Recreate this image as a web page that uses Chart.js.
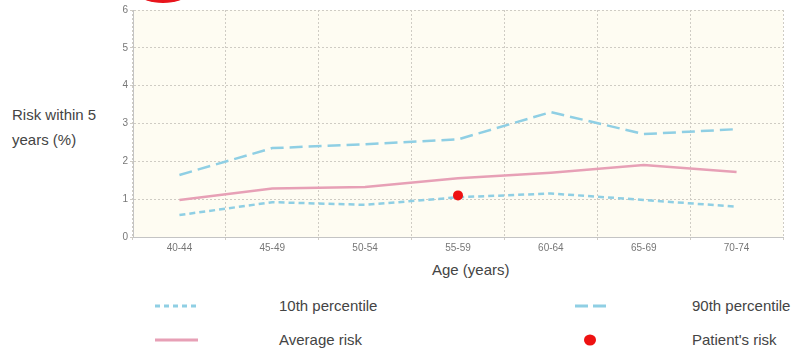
<!DOCTYPE html>
<html>
<head>
<meta charset="utf-8">
<script src="https://cdn.jsdelivr.net/npm/chart.js@4"></script>
<style>
  body { margin: 0; background: #fff; font-family: "Liberation Sans", Arial, sans-serif; color: #444; }
  #wrap { position: relative; width: 800px; height: 349px; overflow: hidden; }
  #chartBox { position: absolute; left: 100px; top: 0; width: 700px; height: 255px; }
  .txt { position: absolute; font-size: 15px; color: #444; white-space: nowrap; }
  .blob { position: absolute; left: 140px; top: -14px; width: 46px; height: 17px; border-radius: 50%; background: #e8141c; }
  svg.leg { position: absolute; }
</style>
</head>
<body>
<div id="wrap">
  <div class="blob"></div>
  <div id="chartBox"><canvas id="riskChart"></canvas></div>
  <div class="txt" style="left:12px; top:106px;">Risk within 5</div>
  <div class="txt" style="left:12px; top:131px;">years (%)</div>
  <div class="txt" style="left:432px; top:261px;">Age (years)</div>

  <svg class="leg" style="left:150px; top:298px;" width="60" height="16">
    <line x1="5" y1="8" x2="48" y2="8" stroke="#8fcfe4" stroke-width="3" stroke-dasharray="5,4"/>
  </svg>
  <div class="txt" style="left:279px; top:297px;">10th percentile</div>
  <svg class="leg" style="left:570px; top:298px;" width="50" height="16">
    <line x1="5" y1="8" x2="38" y2="8" stroke="#8fcfe4" stroke-width="3" stroke-dasharray="13,5"/>
  </svg>
  <div class="txt" style="left:692px; top:297px;">90th percentile</div>
  <svg class="leg" style="left:150px; top:332px;" width="60" height="16">
    <line x1="5" y1="8" x2="48" y2="8" stroke="#e7a0b6" stroke-width="3"/>
  </svg>
  <div class="txt" style="left:279px; top:331px;">Average risk</div>
  <svg class="leg" style="left:580px; top:332px;" width="20" height="16">
    <ellipse cx="10" cy="8" rx="6" ry="5.5" fill="#ee1111"/>
  </svg>
  <div class="txt" style="left:692px; top:331px;">Patient's risk</div>
</div>

<script>
const ageGroups = ['40-44', '45-49', '50-54', '55-59', '60-64', '65-69', '70-74'];
const p10 = [0.58, 0.92, 0.85, 1.05, 1.15, 0.98, 0.80];
const p90 = [1.64, 2.35, 2.45, 2.58, 3.30, 2.72, 2.85];
const averageRisk = [0.98, 1.28, 1.32, 1.55, 1.70, 1.90, 1.72];
const patientRisk = [null, null, null, 1.10, null, null, null];
const yTicks = [0, 1, 2, 3, 4, 5, 6];

// фон области графика
const plotBg = {
    id: 'plotBg',
    beforeDraw(chart) {
        const { ctx, chartArea } = chart;
        ctx.save();
        ctx.fillStyle = '#fefcf2';
        ctx.fillRect(chartArea.left, chartArea.top, chartArea.right - chartArea.left, chartArea.bottom - chartArea.top);
        ctx.restore();
    }
};

const blue = '#8fcfe4';

new Chart(document.getElementById('riskChart'), {
    type: 'line',
    data: {
        labels: ageGroups,
        datasets: [
            {
                label: "Patient's risk",
                data: patientRisk,
                showLine: false,
                pointRadius: 5,
                pointBackgroundColor: '#ee1111',
                pointBorderColor: '#ee1111',
                pointBorderWidth: 0
            },
            {
                label: '10th percentile',
                data: p10,
                borderColor: blue,
                borderWidth: 2.5,
                borderDash: [6, 4],
                pointRadius: 0,
                tension: 0
            },
            {
                label: '90th percentile',
                data: p90,
                borderColor: blue,
                borderWidth: 2.5,
                borderDash: [13, 6],
                pointRadius: 0,
                tension: 0
            },
            {
                label: 'Average risk',
                data: averageRisk,
                borderColor: '#e7a0b6',
                borderWidth: 2.5,
                pointRadius: 0,
                tension: 0
            }
        ]
    },
    options: {
        responsive: true,
        maintainAspectRatio: false,
        animation: false,
        layout: { padding: { top: 10, right: 17 } },
        plugins: {
            legend: { display: false },
            tooltip: { enabled: false }
        },
        scales: {
            x: {
                offset: true,
                afterFit: s => { s.height = 18; },
                grid: { offset: true, color: '#cfccc4', tickLength: 3 },
                border: { color: '#c4c4c4', width: 1, dash: [2, 2] },
                ticks: { color: '#777', font: { size: 10 }, padding: 2 }
            },
            y: {
                min: 0,
                max: 6,
                afterFit: s => { s.width = 33; },
                afterBuildTicks: s => { s.ticks = yTicks.map(v => ({ value: v })); },
                grid: { color: '#cfccc4', tickLength: 3 },
                border: { color: '#c4c4c4', width: 1, dash: [2, 2] },
                ticks: { color: '#777', font: { size: 10 }, padding: 2 }
            }
        }
    },
    plugins: [plotBg]
});
</script>
</body>
</html>
